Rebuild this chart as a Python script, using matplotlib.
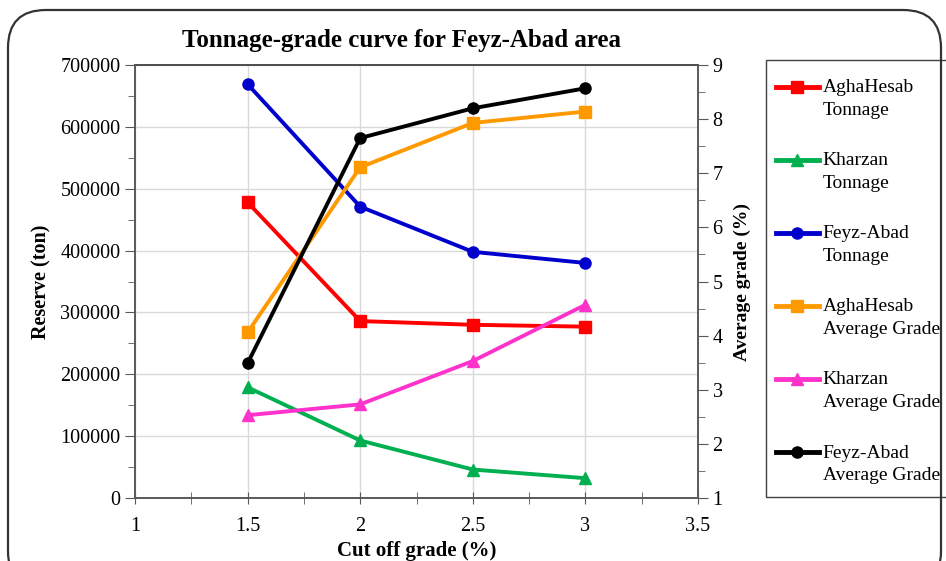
import matplotlib.pyplot as plt
from matplotlib.patches import FancyBboxPatch, Rectangle
from matplotlib.legend_handler import HandlerLine2D
from matplotlib.ticker import MultipleLocator
import numpy as np

plt.rcParams['font.family'] = ['Liberation Serif', 'DejaVu Serif']

# dane
cutoff = [1.5, 2.0, 2.5, 3.0]
agha_tonnage = [478000, 286000, 280000, 277000]
kharzan_tonnage = [179000, 93000, 46000, 32000]
feyz_tonnage = [669000, 471000, 398000, 380000]
agha_grade = [4.06, 7.11, 7.93, 8.14]
kharzan_grade = [2.53, 2.73, 3.53, 4.57]
feyz_grade = [3.49, 7.65, 8.20, 8.57]

labels = ["AghaHesab\nTonnage", "Kharzan\nTonnage", "Feyz-Abad\nTonnage",
          "AghaHesab\nAverage Grade", "Kharzan\nAverage Grade", "Feyz-Abad\nAverage Grade"]


# znacznik legendy na wysokosci pierwszej linii tekstu
class UpHandler(HandlerLine2D):
    def create_artists(self, legend, orig_handle, xdescent, ydescent,
                       width, height, fontsize, trans):
        arts = super().create_artists(legend, orig_handle, xdescent, ydescent,
                                      width, height, fontsize, trans)
        for a in arts:
            a.set_ydata(np.asarray(a.get_ydata()) + 0.62 * fontsize)
        return arts


fig = plt.figure(figsize=(9.46, 5.61), dpi=100)
ax = fig.add_axes([135/946, 1 - 498/561, (698 - 135)/946, (498 - 65)/561])
ax2 = ax.twinx()

lw = 2.8
ms = 8
h1, = ax.plot(cutoff, agha_tonnage, color='#FF0000', lw=lw, marker='s', ms=ms)
h2, = ax.plot(cutoff, kharzan_tonnage, color='#00B050', lw=lw, marker='^', ms=ms + 1)
h3, = ax.plot(cutoff, feyz_tonnage, color='#0000CC', lw=lw, marker='o', ms=ms)
h4, = ax2.plot(cutoff, agha_grade, color='#FF9900', lw=lw, marker='s', ms=ms)
h5, = ax2.plot(cutoff, kharzan_grade, color='#FF33CC', lw=lw, marker='^', ms=ms + 1)
h6, = ax2.plot(cutoff, feyz_grade, color='#000000', lw=lw, marker='o', ms=ms)

ax.set_xlim(1, 3.5)
ax.set_ylim(0, 700000)
ax2.set_ylim(1, 9)
ax.xaxis.set_minor_locator(MultipleLocator(0.25))
ax.yaxis.set_major_locator(MultipleLocator(100000))
ax.yaxis.set_minor_locator(MultipleLocator(50000))
ax2.yaxis.set_major_locator(MultipleLocator(1))
ax2.yaxis.set_minor_locator(MultipleLocator(0.5))
ax.set_xticks([1, 1.5, 2, 2.5, 3, 3.5])
ax.set_xticklabels(['1', '1.5', '2', '2.5', '3', '3.5'])

ax.grid(True, color='#D9D9D9', lw=1)
ax.set_axisbelow(True)

for a in (ax, ax2):
    for s in a.spines.values():
        s.set_color('#595959')
        s.set_linewidth(1.2)
    a.tick_params(which='both', direction='out', color='#595959', labelsize=14.5)
    a.tick_params(which='major', length=7)
    a.tick_params(which='minor', length=5)
ax.spines['top'].set_color('black')
ax.tick_params(axis='x', which='both', direction='inout', length=8, pad=10)

fig.text(401/946, 1 - 40/561, "Tonnage-grade curve for Feyz-Abad area",
         fontsize=18, fontweight='bold', ha='center', va='center')
ax.set_xlabel("Cut off grade (%)", fontsize=15, fontweight='bold', labelpad=3)
ax.set_ylabel("Reserve (ton)", fontsize=14.5, fontweight='bold', labelpad=6)
ax2.set_ylabel("Average grade (%)", fontsize=14, fontweight='bold', labelpad=8)

# legenda
fig.patches.append(Rectangle((766/946, 1 - 497/561), 0.4, 437/561,
                             transform=fig.transFigure, fill=False,
                             edgecolor='#404040', lw=1, clip_on=False))
handles = [h1, h2, h3, h4, h5, h6]
leg = fig.legend(handles, labels, loc='upper left',
                 bbox_to_anchor=(776/946, 1 - 79/561), frameon=False, fontsize=14,
                 handlelength=2.2, handletextpad=0.2, labelspacing=1.71,
                 borderaxespad=0, borderpad=0,
                 handler_map={h: UpHandler() for h in handles})
for t in leg.get_texts():
    t.set_linespacing(1.45)
for line in leg.get_lines():
    line.set_linewidth(3.5)

# ramka
fig.patches.append(FancyBboxPatch((8/946, -0.05), 933/946, 1 - 10/561 + 0.05,
                                  boxstyle="round,pad=0,rounding_size=0.04",
                                  transform=fig.transFigure, fill=False,
                                  edgecolor='#333333', lw=1.6,
                                  mutation_aspect=946/561))

fig.savefig("out.png", dpi=100)
